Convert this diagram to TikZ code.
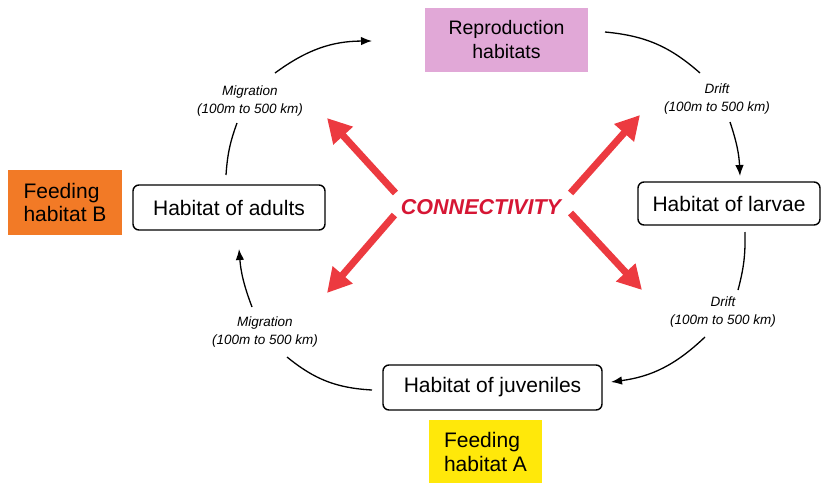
\documentclass[tikz,border=0pt]{standalone}
\usepackage{fontspec}
\setmainfont{Liberation Sans}
\usetikzlibrary{arrows.meta}
\usetikzlibrary{calc}

\definecolor{reprocol}{RGB}{225,168,215}
\definecolor{feedBcol}{RGB}{242,122,38}
\definecolor{feedAcol}{RGB}{255,232,10}
\definecolor{connred}{RGB}{236,58,64}
\definecolor{conntext}{RGB}{214,22,52}

\tikzset{>={Latex[length=11pt,width=8.5pt]}}
\tikzset{
  habitat/.style={draw, line width=1.4pt, rounded corners=6pt, inner sep=0pt,
    font=\fontsize{21}{24}\selectfont},
  patch/.style={inner sep=0pt, align=left, font=\fontsize{21}{23.5}\selectfont},
  dist/.style={align=center, font=\fontsize{13.5}{18}\selectfont\itshape},
  cycle/.style={line width=1.3pt},
  reach/.style={connred, line width=7pt, -{Triangle[length=24pt,width=25pt]}}
}

\begin{document}
\begin{tikzpicture}[x=1pt, y=-1pt]
    \useasboundingbox (0,0) rectangle (821,482);

    % Coloured habitat patches
    \node[patch, fill=reprocol, minimum width=163pt, minimum height=64pt, align=center,
      font=\fontsize{19.5}{24}\selectfont] (repro) at (506.5,40) {Reproduction\\habitats};
    \node[patch, fill=feedBcol, minimum width=114pt, minimum height=65pt] (feedB) at (65,202.5) {Feeding\\habitat B};
    \node[patch, fill=feedAcol, minimum width=113pt, minimum height=64pt] (feedA) at (485.5,452) {Feeding\\habitat A};

    % Life stages
    \node[habitat, minimum width=192pt, minimum height=45pt] (adults) at (229,207.5) {Habitat of adults};
    \node[habitat, minimum width=182pt, minimum height=43pt] (larvae) at (729,203.5) {Habitat of larvae};
    \node[habitat, minimum width=219pt, minimum height=45pt] (juveniles) at (492.5,387.5) {Habitat of juveniles};

    % Dispersal labels
    \node[dist] (migA) at (250,101) {Migration\\(100m to 500 km)};
    \node[dist] (driftA) at (717,99) {Drift\\(100m to 500 km)};
    \node[dist] (driftB) at (723,312) {Drift\\(100m to 500 km)};
    \node[dist] (migB) at (265,332) {Migration\\(100m to 500 km)};

    % Connectivity
    \node[font=\fontsize{21.5}{24}\selectfont\bfseries\itshape, text=conntext] (conn) at (481,207) {CONNECTIVITY};

    % Cycle ends
    \coordinate (c1) at (275,73);   \coordinate (c2) at (372,41);
    \coordinate (c3) at (605,32);   \coordinate (c4) at (700,73);
    \coordinate (c5) at (730,122);  \coordinate (c6) at (740,176);
    \coordinate (c7) at (745,232);  \coordinate (c8) at (738,290);
    \coordinate (c9) at (705,337);  \coordinate (c10) at (611,382);
    \coordinate (c11) at (372,390); \coordinate (c12) at (287,357);
    \coordinate (c13) at (252,307); \coordinate (c14) at (239,249);
    \coordinate (c15) at (226,175); \coordinate (c16) at (237,123);

    % Life cycle
    \draw[cycle, ->] (c1) to[bend left=18] (c2);
    \draw[cycle] (c3) to[bend left=18] (c4);
    \draw[cycle, ->] (c5) to[bend left=8] (c6);
    \draw[cycle] (c7) to[bend left=8] (c8);
    \draw[cycle, ->] (c9) to[bend left=18] (c10);
    \draw[cycle] (c11) to[bend left=18] (c12);
    \draw[cycle, ->] (c13) to[bend left=8] (c14);
    \draw[cycle] (c15) to[bend left=8] (c16);

    % Connectivity arrows
    \coordinate (tUL) at (327,118);
    \coordinate (tUR) at (640,115);
    \coordinate (tLL) at (327,293);
    \coordinate (tLR) at (642,290);
    \draw[reach] ($(conn.west)+(-2,-14)$) -- (tUL);
    \draw[reach] ($(conn.east)+(6,-14)$) -- (tUR);
    \draw[reach] ($(conn.west)+(-3,8)$) -- (tLL);
    \draw[reach] ($(conn.east)+(6,6)$) -- (tLR);
\end{tikzpicture}
\end{document}
